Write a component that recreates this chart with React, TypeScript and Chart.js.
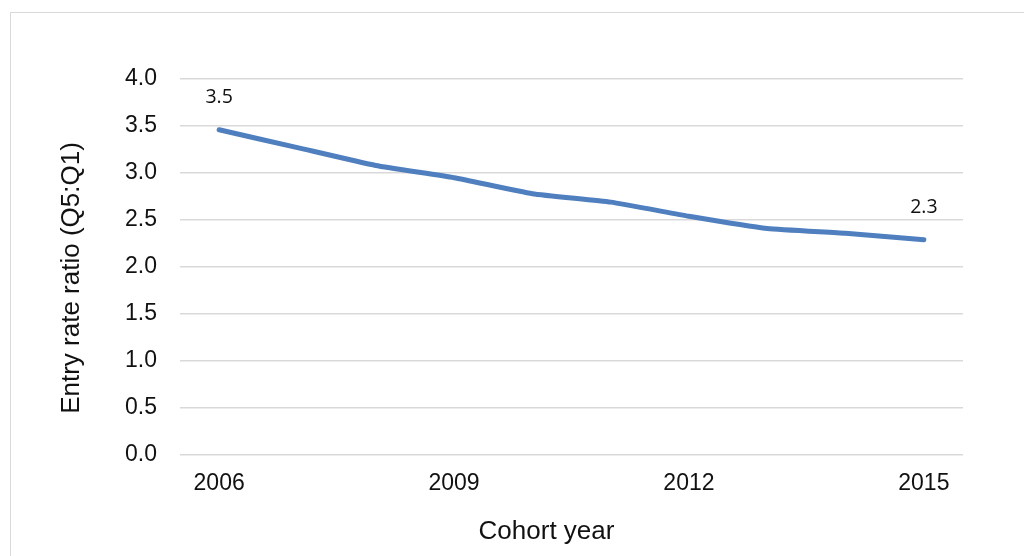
import { useEffect, useRef } from "react";
import { Chart, registerables } from "chart.js";

Chart.register(...registerables);

const years = ["2006", "2007", "2008", "2009", "2010", "2011", "2012", "2013", "2014", "2015"];
const ratio = [3.46, 3.27, 3.08, 2.95, 2.78, 2.69, 2.54, 2.41, 2.36, 2.29];
const labelledPoints = [0, 9];
const xTitle = "Cohort year";
const yTitle = "Entry rate ratio (Q5:Q1)";

const tickFont = "Arial, 'Liberation Sans', sans-serif";

// draws the two value labels and the axis titles
const extras = {
  id: "extras",
  afterDatasetsDraw(chart: Chart) {
    const ctx = chart.ctx;
    const meta = chart.getDatasetMeta(0);
    ctx.save();
    ctx.fillStyle = "#111";
    ctx.font = "19.5px 'Open Sans', 'Noto Sans', sans-serif";
    ctx.textAlign = "center";
    ctx.textBaseline = "middle";
    labelledPoints.forEach((i) => {
      const pt = meta.data[i];
      ctx.fillText(ratio[i].toFixed(1), pt.x, pt.y - 32);
    });

    ctx.font = "26px " + tickFont;
    const area = chart.chartArea;
    ctx.fillText(xTitle, (area.left + area.right) / 2 - 25, 532);
    ctx.translate(72, (area.top + area.bottom) / 2 + 11);
    ctx.rotate(-Math.PI / 2);
    ctx.fillText(yTitle, 0, 0);
    ctx.restore();
  },
};

export default function App() {
  const canvasRef = useRef<HTMLCanvasElement | null>(null);

  useEffect(() => {
    if (!canvasRef.current) return;
    const chart = new Chart(canvasRef.current, {
      type: "line",
      data: {
        labels: years,
        datasets: [
          {
            data: ratio,
            borderColor: "#4f7fbe",
            borderWidth: 5,
            borderCapStyle: "round",
            borderJoinStyle: "round",
            tension: 0.15,
            pointRadius: 0,
            fill: false,
          },
        ],
      },
      options: {
        animation: false,
        responsive: true,
        maintainAspectRatio: false,
        layout: { padding: { left: 0, top: 79, right: 61, bottom: 0 } },
        plugins: { legend: { display: false }, tooltip: { enabled: false } },
        scales: {
          x: {
            offset: true,
            grid: { display: false, drawTicks: false },
            border: { display: false },
            ticks: {
              autoSkip: false,
              maxRotation: 0,
              padding: 15,
              color: "#111",
              font: { family: tickFont, size: 23 },
              callback: (_v, i) => (i % 3 === 0 ? years[i] : ""),
            },
            afterFit: (scale: any) => {
              scale.height = 101;
            },
          },
          y: {
            min: 0,
            max: 4,
            grid: { color: "#d9d9d9", lineWidth: 1.5, drawTicks: false },
            border: { display: false },
            ticks: {
              stepSize: 0.5,
              padding: 23,
              color: "#111",
              font: { family: tickFont, size: 23 },
              callback: (v) => Number(v).toFixed(1),
            },
            afterFit: (scale: any) => {
              scale.width = 180;
            },
          },
        },
      },
      plugins: [extras],
    });
    return () => chart.destroy();
  }, []);

  return (
    <div
      style={{
        position: "fixed",
        left: 0,
        top: 0,
        width: 1024,
        height: 556,
        overflow: "hidden",
        background: "#fff",
      }}
    >
      <div
        style={{
          position: "absolute",
          left: 10,
          top: 12,
          width: 1100,
          height: 700,
          border: "1.5px solid #d9d9d9",
        }}
      />
      <div style={{ position: "absolute", left: 0, top: 0, width: 1024, height: 556 }}>
        <canvas ref={canvasRef} />
      </div>
    </div>
  );
}
